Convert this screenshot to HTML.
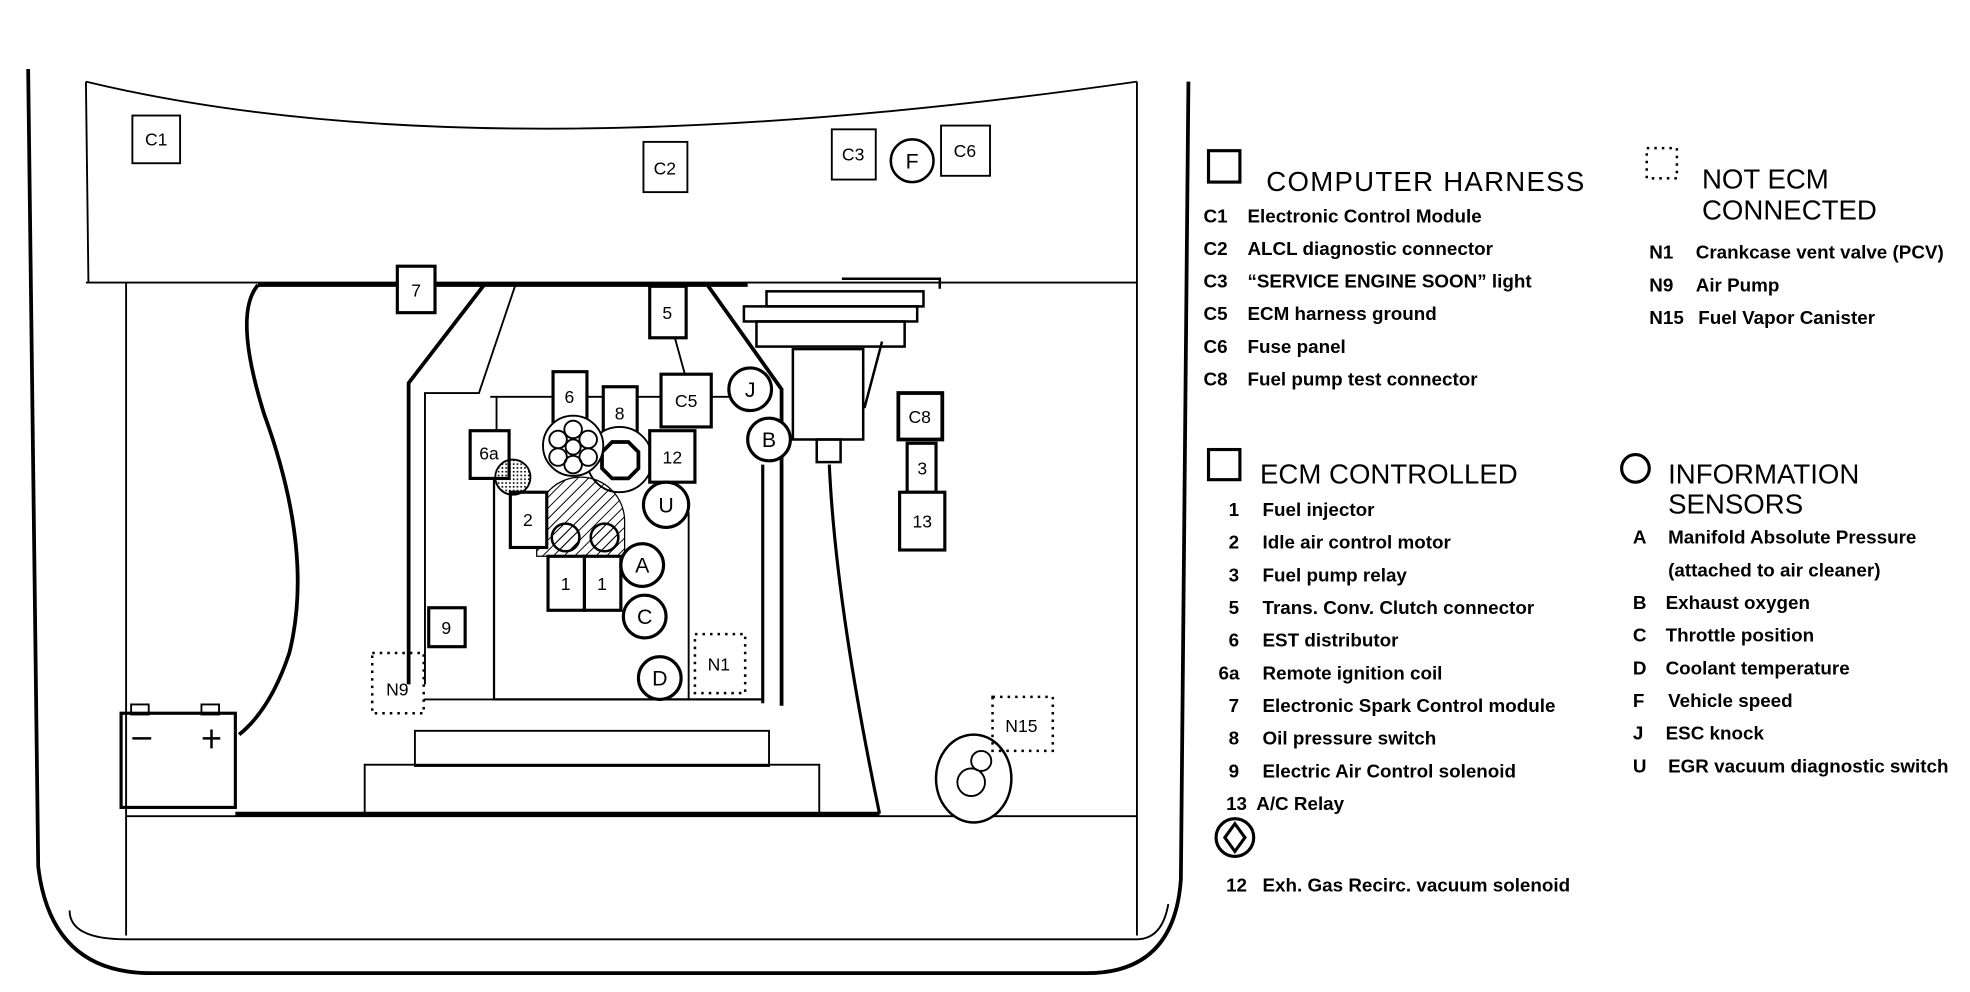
<!DOCTYPE html>
<html><head><meta charset="utf-8"><style>
html,body{margin:0;padding:0;background:#fff}
svg{display:block}
text{font-family:"Liberation Sans",sans-serif;fill:#000}
.l{font-size:15px}
.h{font-size:22px}
.b{font-size:14px}
</style></head><body>
<svg width="1970" height="992" viewBox="0 0 1568 790" xmlns="http://www.w3.org/2000/svg">
<defs>
<pattern id="hat" width="6" height="6" patternUnits="userSpaceOnUse" patternTransform="rotate(45)"><line x1="0" y1="0" x2="0" y2="6" stroke="#000" stroke-width="1.5"/></pattern>
<pattern id="dot" width="3" height="3" patternUnits="userSpaceOnUse"><rect width="1.3" height="1.3" fill="#000"/></pattern>
</defs>
<g fill="none" stroke="#000">
<path d="M22,55 L30,690 Q40,775 120,775 L865,775 Q935,775 940,700 L946,65" stroke-width="3"/>
<path d="M68,65 Q380,140 905,65" stroke-width="1.5"/>
<line x1="68" y1="65" x2="70" y2="225" stroke-width="1.5"/>
<line x1="905" y1="65" x2="905" y2="225" stroke-width="1.5"/>
<line x1="68" y1="225" x2="905" y2="225" stroke-width="1.5"/>
<path d="M100,225 L100,745 M905,225 L905,745" stroke-width="1.5"/>
<path d="M55,725 Q55,748 100,748 L905,748 Q925,748 930,720" stroke-width="1.5"/>
<line x1="100" y1="650" x2="905" y2="650" stroke-width="1.5"/>
<line x1="205" y1="227" x2="595" y2="227" stroke-width="3"/>
<path d="M205,227 Q185,250 210,330 Q250,440 230,520 Q215,565 190,585" stroke-width="3"/>
<line x1="187" y1="648" x2="700" y2="648" stroke-width="3"/>
<rect x="96" y="568" width="91" height="75" stroke-width="2.5"/>
<rect x="104" y="561" width="14" height="8" stroke-width="1.5"/>
<rect x="160" y="561" width="14" height="8" stroke-width="1.5"/>
<line x1="105" y1="588" x2="120" y2="588" stroke-width="2"/>
<path d="M161,588 L175,588 M168,581 L168,596" stroke-width="2"/>
<rect x="330" y="582" width="282" height="28" stroke-width="1.5"/>
<rect x="290" y="609" width="362" height="39" stroke-width="1.5"/>
<path d="M385,227 L325,305 L325,545" stroke-width="3"/>
<path d="M410,227 L381,313 L338,313 L338,545" stroke-width="1.5"/>
<path d="M390,316 L600,316" stroke-width="1.5"/>
<path d="M395,316 L395,343" stroke-width="1.5"/>
<path d="M393,381 L393,557 L608,557" stroke-width="1.8"/>
<line x1="337" y1="557" x2="393" y2="557" stroke-width="1.5"/>
<line x1="548" y1="408" x2="548" y2="557" stroke-width="1.5"/>
<line x1="607" y1="370" x2="607" y2="560" stroke-width="2.5"/>
<path d="M563,227 L622,310 L622,562" stroke-width="3"/>
<line x1="537" y1="269" x2="545" y2="298" stroke-width="1.5"/>
<path d="M670,222 L748,222 L748,230" stroke-width="2"/>
<rect x="610" y="232" width="125" height="12" stroke-width="2"/>
<rect x="592" y="244" width="138" height="12" stroke-width="2"/>
<rect x="602" y="256" width="118" height="20" stroke-width="2"/>
<rect x="631" y="278" width="56" height="72" stroke-width="2"/>
<rect x="650" y="350" width="19" height="18" stroke-width="2"/>
<path d="M660,370 Q665,480 700,648" stroke-width="2.5"/>
<path d="M688,325 L702,272" stroke-width="2"/>
<path d="M622,350 L631,350" stroke-width="1.5"/>
</g>
<g fill="#fff" stroke="#000">
<rect x="105" y="92" width="38" height="38" stroke-width="1.5"/>
<rect x="512" y="113" width="35" height="40" stroke-width="1.5"/>
<rect x="662" y="103" width="35" height="40" stroke-width="1.5"/>
<circle cx="726" cy="128" r="17" stroke-width="2"/>
<rect x="749" y="100" width="39" height="40" stroke-width="1.5"/>
<rect x="316" y="212" width="30" height="37" stroke-width="2.5"/>
<rect x="517" y="228" width="29" height="41" stroke-width="2.5"/>
<rect x="526" y="298" width="40" height="42" stroke-width="2.5"/>
<circle cx="597" cy="310" r="17" stroke-width="2.5"/>
<circle cx="612" cy="350" r="17" stroke-width="2.5"/>
<rect x="440" y="296" width="27" height="41" stroke-width="2.5"/>
<rect x="480" y="308" width="27" height="42" stroke-width="2.5"/>
<circle cx="493" cy="366" r="26" stroke-width="1.5"/>
<polygon points="487,352 500,352 508,360 508,373 500,381 487,381 479,373 479,360" stroke-width="3"/>
<circle cx="456" cy="355" r="24" stroke-width="1.5"/>
<rect x="517" y="343" width="36" height="41" stroke-width="2.5"/>
<circle cx="530" cy="402" r="18" stroke-width="2.5"/>
<rect x="374" y="343" width="31" height="38" stroke-width="2.5"/>
<path d="M427,436 L427,415 A35,35 0 0 1 497,415 L497,443 L427,443 Z" fill="url(#hat)" stroke-width="1"/>
<circle cx="450" cy="428" r="11" fill="url(#hat)" stroke-width="2"/>
<circle cx="481" cy="428" r="11" fill="url(#hat)" stroke-width="2"/>
<rect x="406" y="392" width="29" height="44" stroke-width="2.5"/>
<rect x="436" y="443" width="29" height="43" stroke-width="2.5"/>
<rect x="465" y="443" width="29" height="43" stroke-width="2.5"/>
<circle cx="511" cy="450" r="17" stroke-width="2.5"/>
<circle cx="513" cy="491" r="17" stroke-width="2.5"/>
<circle cx="525" cy="540" r="17" stroke-width="2.5"/>
<rect x="341" y="484" width="29" height="31" stroke-width="2.5"/>
<rect x="715" y="313" width="35" height="37" stroke-width="3"/>
<rect x="722" y="353" width="23" height="39" stroke-width="2.5"/>
<rect x="716" y="392" width="36" height="46" stroke-width="2.5"/>
<ellipse cx="775" cy="620" rx="30" ry="35" stroke-width="2"/>
</g>
<g fill="none" stroke="#000" stroke-width="1.5">
<circle cx="408" cy="380" r="14" fill="url(#dot)"/>
<circle cx="456" cy="342" r="7"/><circle cx="444" cy="350" r="7"/><circle cx="468" cy="350" r="7"/>
<circle cx="444" cy="364" r="7"/><circle cx="468" cy="364" r="7"/><circle cx="456" cy="370" r="7"/><circle cx="456" cy="356" r="6"/>
<circle cx="781" cy="606" r="8"/><circle cx="773" cy="623" r="11"/>
<g stroke-dasharray="2,4" stroke-width="2">
<rect x="553" y="505" width="40" height="47"/>
<rect x="296" y="520" width="41" height="48"/>
<rect x="790" y="555" width="48" height="43"/>
<rect x="1311" y="118" width="24" height="24"/>
</g>
<rect x="962" y="120" width="25" height="25" stroke-width="2.5"/>
<rect x="962" y="358" width="25" height="24" stroke-width="2.5"/>
<circle cx="1302" cy="373" r="11" stroke-width="2.5"/>
<circle cx="983" cy="667" r="15" stroke-width="2.5"/>
<polygon points="983,656 991,667 983,678 975,667" stroke-width="2.5"/>
</g>
<g class="b" text-anchor="middle">
<text x="124" y="116">C1</text><text x="529" y="139">C2</text><text x="679" y="128">C3</text>
<text x="726" y="134" font-size="17">F</text><text x="768" y="125">C6</text>
<text x="331" y="236">7</text><text x="531" y="254">5</text><text x="546" y="324">C5</text>
<text x="597" y="316" font-size="17">J</text><text x="612" y="356" font-size="17">B</text>
<text x="453" y="321">6</text><text x="493" y="334">8</text><text x="535" y="369">12</text>
<text x="530" y="408" font-size="17">U</text><text x="389" y="366">6a</text><text x="420" y="419">2</text>
<text x="450" y="470">1</text><text x="479" y="470">1</text>
<text x="511" y="456" font-size="17">A</text><text x="513" y="497" font-size="17">C</text><text x="525" y="546" font-size="17">D</text>
<text x="355" y="505">9</text><text x="572" y="534">N1</text><text x="316" y="554">N9</text><text x="813" y="583">N15</text>
<text x="732" y="337">C8</text><text x="734" y="378">3</text><text x="734" y="420">13</text>
</g>
<g class="l" font-weight="bold">
<text class="h" font-weight="normal" x="1008" y="152" letter-spacing="1">COMPUTER HARNESS</text>
<text x="958" y="177">C1</text><text x="993" y="177">Electronic Control Module</text>
<text x="958" y="203">C2</text><text x="993" y="203">ALCL diagnostic connector</text>
<text x="958" y="229">C3</text><text x="993" y="229">“SERVICE ENGINE SOON” light</text>
<text x="958" y="255">C5</text><text x="993" y="255">ECM harness ground</text>
<text x="958" y="281">C6</text><text x="993" y="281">Fuse panel</text>
<text x="958" y="307">C8</text><text x="993" y="307">Fuel pump test connector</text>
<text class="h" font-weight="normal" x="1355" y="150">NOT ECM</text>
<text class="h" font-weight="normal" x="1355" y="175">CONNECTED</text>
<text x="1313" y="206">N1</text><text x="1350" y="206">Crankcase vent valve (PCV)</text>
<text x="1313" y="232">N9</text><text x="1350" y="232">Air Pump</text>
<text x="1313" y="258">N15</text><text x="1352" y="258">Fuel Vapor Canister</text>
<text class="h" font-weight="normal" x="1003" y="385">ECM CONTROLLED</text>
<text x="978" y="411">1</text><text x="1005" y="411">Fuel injector</text>
<text x="978" y="437">2</text><text x="1005" y="437">Idle air control motor</text>
<text x="978" y="463">3</text><text x="1005" y="463">Fuel pump relay</text>
<text x="978" y="489">5</text><text x="1005" y="489">Trans. Conv. Clutch connector</text>
<text x="978" y="515">6</text><text x="1005" y="515">EST distributor</text>
<text x="970" y="541">6a</text><text x="1005" y="541">Remote ignition coil</text>
<text x="978" y="567">7</text><text x="1005" y="567">Electronic Spark Control module</text>
<text x="978" y="593">8</text><text x="1005" y="593">Oil pressure switch</text>
<text x="978" y="619">9</text><text x="1005" y="619">Electric Air Control solenoid</text>
<text x="976" y="645">13</text><text x="1000" y="645">A/C Relay</text>
<text x="976" y="710">12</text><text x="1005" y="710">Exh. Gas Recirc. vacuum solenoid</text>
<text class="h" font-weight="normal" x="1328" y="385">INFORMATION</text>
<text class="h" font-weight="normal" x="1328" y="409">SENSORS</text>
<text x="1300" y="433">A</text><text x="1328" y="433">Manifold Absolute Pressure</text>
<text x="1328" y="459">(attached to air cleaner)</text>
<text x="1300" y="485">B</text><text x="1326" y="485">Exhaust oxygen</text>
<text x="1300" y="511">C</text><text x="1326" y="511">Throttle position</text>
<text x="1300" y="537">D</text><text x="1326" y="537">Coolant temperature</text>
<text x="1300" y="563">F</text><text x="1328" y="563">Vehicle speed</text>
<text x="1300" y="589">J</text><text x="1326" y="589">ESC knock</text>
<text x="1300" y="615">U</text><text x="1328" y="615">EGR vacuum diagnostic switch</text>
</g>
</svg>
</body></html>
